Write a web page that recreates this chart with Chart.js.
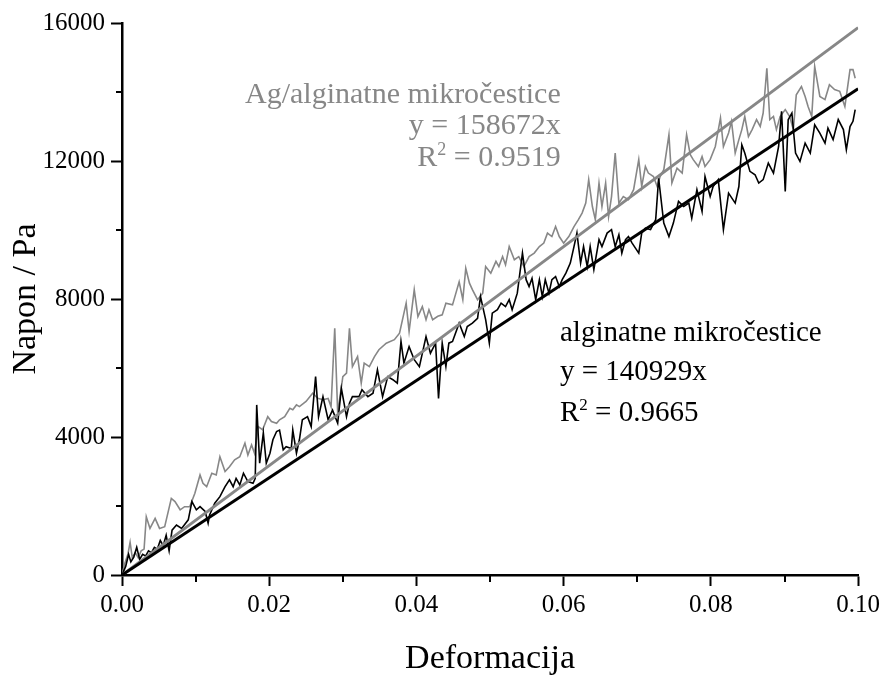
<!DOCTYPE html>
<html>
<head>
<meta charset="utf-8">
<title>Napon - deformacija</title>
<script src="https://cdn.jsdelivr.net/npm/chart.js@4.4.1/dist/chart.umd.min.js"></script>
<style>
    html, body { margin: 0; padding: 0; background: #ffffff; }
    #wrap { width: 884px; height: 682px; }
</style>
</head>
<body>
<div id="wrap"><canvas id="stressChart" width="884" height="682"></canvas></div>
<script>
/**
 * Napon / deformacija - alginatne i Ag/alginatne mikročestice
 * Noisy measurements plus linear fits through the origin.
 */

// Black series: alginatne mikročestice
const blackStrain = [
    0, 0.0005, 0.0009, 0.0012, 0.0016, 0.0020, 0.0024, 0.0028, 0.0032, 0.0036,
    0.0040, 0.0044, 0.0048, 0.0052, 0.0056, 0.0060, 0.0064, 0.0068, 0.0074, 0.0081,
    0.0090, 0.0095, 0.0101, 0.0106, 0.0113, 0.0117, 0.0119, 0.0126, 0.0133, 0.0140,
    0.0146, 0.0151, 0.0155, 0.0160, 0.0165, 0.0171, 0.0178, 0.0181, 0.0183, 0.0187,
    0.0192, 0.0196, 0.0201, 0.0205, 0.0210, 0.0214, 0.0219, 0.0223, 0.0230, 0.0232,
    0.0237, 0.0241, 0.0245, 0.0252, 0.0257, 0.0263, 0.0267, 0.0273, 0.0280, 0.0286,
    0.0293, 0.0298, 0.0305, 0.0309, 0.0313, 0.0322, 0.0326, 0.0334, 0.0341, 0.0347,
    0.0354, 0.0361, 0.0368, 0.0374, 0.0379, 0.0383, 0.0390, 0.0397, 0.0404, 0.0413,
    0.0419, 0.0426, 0.0430, 0.0435, 0.0440, 0.0444, 0.0449, 0.0458, 0.0465, 0.0469,
    0.0476, 0.0483, 0.0487, 0.0494, 0.0499, 0.0503, 0.0510, 0.0515, 0.0521, 0.0526,
    0.0530, 0.0537, 0.0544, 0.0549, 0.0553, 0.0557, 0.0562, 0.0567, 0.0571, 0.0575,
    0.0580, 0.0584, 0.0589, 0.0594, 0.0598, 0.0603, 0.0609, 0.0614, 0.0618, 0.0623,
    0.0627, 0.0632, 0.0636, 0.0641, 0.0648, 0.0652, 0.0659, 0.0665, 0.0670, 0.0675,
    0.0679, 0.0684, 0.0688, 0.0693, 0.0702, 0.0706, 0.0711, 0.0718, 0.0725, 0.0729,
    0.0736, 0.0743, 0.0749, 0.0756, 0.0763, 0.0770, 0.0774, 0.0781, 0.0788, 0.0792,
    0.0799, 0.0803, 0.0810, 0.0817, 0.0824, 0.0833, 0.0838, 0.0842, 0.0846, 0.0853,
    0.0860, 0.0865, 0.0871, 0.0878, 0.0885, 0.0892, 0.0896, 0.0901, 0.0905, 0.0910,
    0.0915, 0.0921, 0.0928, 0.0935, 0.0941, 0.0948, 0.0955, 0.0959, 0.0966, 0.0973,
    0.0980, 0.0984, 0.0989, 0.0993, 0.0996
];
const blackStress = [
    0, 250, 600, 380, 520, 800, 450, 600, 550, 700,
    650, 800, 750, 1000, 850, 1150, 700, 1300, 1450, 1350,
    1600, 2130, 1890, 1980, 1840, 1500, 1740, 2080, 2270, 2560,
    2760, 2560, 2800, 2610, 2950, 2710, 2660, 2800, 4930, 3240,
    4120, 3240, 3530, 3920, 4160, 4200, 3630, 3720, 3670, 4200,
    3530, 3920, 4500, 4590, 4300, 5750, 4590, 5170, 4500, 4780,
    4400, 5410, 4590, 4980, 5170, 5170, 5370, 5170, 5270, 5950,
    5170, 5750, 5660, 5560, 6770, 6140, 6620, 6240, 6040, 6910,
    6430, 6720, 5120, 6720, 6040, 6720, 6770, 7300, 6910, 7200,
    7300, 7440, 8070, 7400, 6720, 7590, 7690, 7880, 7780, 7980,
    7690, 8170, 9330, 8560, 8360, 8600, 7980, 8560, 8070, 8560,
    8170, 8560, 8650, 8360, 8560, 8750, 9040, 9520, 9910, 9040,
    9520, 8940, 9520, 8850, 9720, 9520, 9910, 10010, 9520, 9860,
    9330, 9720, 9810, 9620, 9330, 9910, 10050, 10010, 10300, 11500,
    10200, 9810, 10200, 10830, 10680, 10780, 10340, 11170, 10540, 11550,
    10970, 11260, 11460, 10010, 11070, 10780, 11260, 12470, 12230, 11700,
    11600, 11360, 11460, 11940, 11650, 12420, 13440, 11120, 13200, 13390,
    12230, 11990, 12520, 12230, 13050, 12810, 12520, 12950, 12620, 13200,
    12910, 12330, 13000, 13150, 13490
];

// Gray series: Ag/alginatne mikročestice
const grayStrain = [
    0, 0.0004, 0.0008, 0.0011, 0.0014, 0.0018, 0.0022, 0.0026, 0.0030, 0.0033,
    0.0038, 0.0045, 0.0051, 0.0058, 0.0067, 0.0072, 0.0079, 0.0085, 0.0092, 0.0099,
    0.0106, 0.0110, 0.0115, 0.0122, 0.0128, 0.0133, 0.0140, 0.0146, 0.0153, 0.0160,
    0.0167, 0.0171, 0.0176, 0.0180, 0.0185, 0.0191, 0.0198, 0.0203, 0.0210, 0.0214,
    0.0221, 0.0228, 0.0232, 0.0237, 0.0241, 0.0250, 0.0259, 0.0266, 0.0273, 0.0280,
    0.0284, 0.0289, 0.0293, 0.0300, 0.0305, 0.0309, 0.0313, 0.0320, 0.0325, 0.0329,
    0.0336, 0.0343, 0.0349, 0.0359, 0.0370, 0.0377, 0.0386, 0.0390, 0.0397, 0.0402,
    0.0408, 0.0413, 0.0417, 0.0422, 0.0429, 0.0435, 0.0440, 0.0449, 0.0458, 0.0463,
    0.0467, 0.0472, 0.0476, 0.0483, 0.0490, 0.0494, 0.0501, 0.0508, 0.0512, 0.0517,
    0.0521, 0.0526, 0.0533, 0.0539, 0.0546, 0.0553, 0.0560, 0.0567, 0.0573, 0.0578,
    0.0584, 0.0589, 0.0594, 0.0600, 0.0607, 0.0614, 0.0620, 0.0625, 0.0630, 0.0634,
    0.0639, 0.0643, 0.0648, 0.0652, 0.0657, 0.0661, 0.0665, 0.0670, 0.0675, 0.0681,
    0.0688, 0.0695, 0.0702, 0.0706, 0.0711, 0.0715, 0.0722, 0.0727, 0.0731, 0.0736,
    0.0743, 0.0747, 0.0754, 0.0761, 0.0767, 0.0772, 0.0776, 0.0783, 0.0788, 0.0792,
    0.0799, 0.0806, 0.0813, 0.0817, 0.0824, 0.0828, 0.0833, 0.0838, 0.0842, 0.0846,
    0.0851, 0.0856, 0.0862, 0.0867, 0.0871, 0.0876, 0.0880, 0.0885, 0.0889, 0.0894,
    0.0901, 0.0907, 0.0912, 0.0916, 0.0923, 0.0928, 0.0932, 0.0937, 0.0941, 0.0948,
    0.0955, 0.0961, 0.0968, 0.0975, 0.0982, 0.0989, 0.0993, 0.0996
];
const grayStress = [
    0, 350, 600, 950, 500, 650, 500, 700, 750, 1690,
    1350, 1640, 1350, 1400, 2220, 2130, 1890, 1980, 1980, 2370,
    2900, 2660, 2560, 2950, 2900, 3430, 3000, 3140, 3340, 3430,
    3820, 3480, 3770, 3530, 4300, 4210, 4590, 4450, 4400, 4500,
    4590, 4830, 4790, 4930, 4880, 5030, 5270, 5120, 5080, 5120,
    4880, 7150, 4700, 5750, 5850, 7150, 6040, 6330, 5560, 6140,
    6040, 6330, 6530, 6720, 6820, 7010, 7880, 7060, 8270, 7490,
    7780, 7400, 7690, 7400, 7500, 7540, 7880, 7830, 8500, 7980,
    8890, 8460, 8270, 7980, 8170, 8940, 8750, 9090, 8940, 9230,
    8990, 9520, 9140, 9230, 8940, 9230, 9330, 9520, 9620, 9910,
    9810, 10100, 9810, 9620, 9810, 10100, 10300, 10490, 10780, 11460,
    10680, 10300, 11360, 10680, 11360, 10390, 10970, 12230, 10780, 10970,
    10880, 11170, 12040, 11260, 11840, 11650, 11550, 11260, 11550, 11750,
    12760, 11360, 11790, 11650, 12760, 12180, 12040, 11840, 12130, 11840,
    12040, 12420, 13250, 12420, 12810, 13150, 12230, 12620, 12910, 13290,
    12710, 12910, 13200, 13000, 13390, 14690, 13200, 13290, 12910, 13290,
    13490, 13290, 12910, 13920, 14160, 13870, 13580, 13290, 14740, 13870,
    13780, 14210, 14070, 14020, 13580, 14650, 14650, 14400
];

// Linear fits y = k x (from the equations printed on the chart)
const slopeBlack = 140929;
const slopeGray = 158672;
const fitStrain = [0, 0.1];

// Axis ticks
const minorStrainTicks = [0.01, 0.03, 0.05, 0.07, 0.09];
const minorStressTicks = [2000, 6000, 10000, 14000];

const FONT = '"Liberation Serif", "Times New Roman", Times, serif';
const GRAY = '#878787';

function toPoints(xs, ys) {
    return xs.map((x, i) => ({ x: x, y: ys[i] }));
}

function fitPoints(slope) {
    return fitStrain.map(x => ({ x: x, y: slope * x }));
}

// Equation labels, anchored in data coordinates
const annotations = [
    { color: GRAY, align: 'right', x: 0.0596, size: 30, lines: [
        { text: 'Ag/alginatne mikročestice', y: 13680 },
        { text: 'y = 158672x', y: 12780 },
        { r2: '0.9519', y: 11850 }
    ]},
    { color: '#000000', align: 'left', x: 0.0595, size: 29, lines: [
        { text: 'alginatne mikročestice', y: 6780 },
        { text: 'y = 140929x', y: 5650 },
        { r2: '0.9665', y: 4460 }
    ]}
];

function drawR2(ctx, value, px, py, align, size) {
    const big = size + 'px ' + FONT;
    const small = Math.round(size * 0.6) + 'px ' + FONT;
    const rest = ' = ' + value;
    ctx.font = big;
    const wR = ctx.measureText('R').width;
    const wRest = ctx.measureText(rest).width;
    ctx.font = small;
    const w2 = ctx.measureText('2').width;
    const start = align === 'right' ? px - (wR + w2 + wRest) : px;
    ctx.textAlign = 'left';
    ctx.font = big;
    ctx.fillText('R', start, py);
    ctx.font = small;
    ctx.fillText('2', start + wR, py - 11);
    ctx.font = big;
    ctx.fillText(rest, start + wR + w2, py);
}

const extrasPlugin = {
    id: 'extras',
    afterDraw(chart) {
        const ctx = chart.ctx;
        const xs = chart.scales.x;
        const ys = chart.scales.y;
        ctx.save();

        // minor ticks
        ctx.strokeStyle = '#000';
        ctx.lineWidth = 2;
        minorStrainTicks.forEach(v => {
            const px = Math.round(xs.getPixelForValue(v));
            ctx.beginPath();
            ctx.moveTo(px, ys.bottom);
            ctx.lineTo(px, ys.bottom + 7);
            ctx.stroke();
        });
        minorStressTicks.forEach(v => {
            const py = Math.round(ys.getPixelForValue(v));
            ctx.beginPath();
            ctx.moveTo(xs.left, py);
            ctx.lineTo(xs.left - 6, py);
            ctx.stroke();
        });

        // equation text
        ctx.textBaseline = 'alphabetic';
        annotations.forEach(a => {
            ctx.fillStyle = a.color;
            const px = xs.getPixelForValue(a.x);
            a.lines.forEach(line => {
                const py = ys.getPixelForValue(line.y);
                if (line.r2) {
                    drawR2(ctx, line.r2, px, py, a.align, a.size);
                } else {
                    ctx.font = a.size + 'px ' + FONT;
                    ctx.textAlign = a.align;
                    ctx.fillText(line.text, px, py);
                }
            });
        });
        ctx.restore();
    }
};

const ctx = document.getElementById('stressChart');

new Chart(ctx, {
    type: 'line',
    data: {
        datasets: [
            {
                label: 'alginatne mikročestice - fit',
                data: fitPoints(slopeBlack),
                borderColor: '#000000',
                borderWidth: 3,
                order: 0
            },
            {
                label: 'Ag/alginatne mikročestice - fit',
                data: fitPoints(slopeGray),
                borderColor: GRAY,
                borderWidth: 3,
                order: 1
            },
            {
                label: 'alginatne mikročestice',
                data: toPoints(blackStrain, blackStress),
                borderColor: '#000000',
                borderWidth: 1.6,
                order: 2
            },
            {
                label: 'Ag/alginatne mikročestice',
                data: toPoints(grayStrain, grayStress),
                borderColor: GRAY,
                borderWidth: 1.6,
                order: 3
            }
        ]
    },
    options: {
        responsive: false,
        animation: false,
        elements: {
            point: { radius: 0, hoverRadius: 0 },
            line: { tension: 0, fill: false }
        },
        layout: {
            padding: { top: 23, right: 24, bottom: 0, left: 0 }
        },
        plugins: {
            legend: { display: false },
            tooltip: { enabled: false },
            title: { display: false }
        },
        scales: {
            x: {
                type: 'linear',
                min: 0,
                max: 0.1,
                afterFit: function(scale) { scale.height = 107; },
                border: { display: true, color: '#000', width: 2.5 },
                grid: {
                    drawOnChartArea: false,
                    drawTicks: true,
                    tickLength: 11,
                    tickWidth: 2,
                    tickColor: '#000'
                },
                ticks: {
                    stepSize: 0.02,
                    padding: 4,
                    maxRotation: 0,
                    color: '#000',
                    font: { family: FONT, size: 25 },
                    callback: v => v.toFixed(2)
                },
                title: {
                    display: true,
                    text: 'Deformacija',
                    color: '#000',
                    font: { family: FONT, size: 34 },
                    padding: { top: 0, bottom: 3 }
                }
            },
            y: {
                type: 'linear',
                min: 0,
                max: 16000,
                afterFit: function(scale) { scale.width = 122; },
                border: { display: true, color: '#000', width: 2.5 },
                grid: {
                    drawOnChartArea: false,
                    drawTicks: true,
                    tickLength: 11,
                    tickWidth: 2,
                    tickColor: '#000'
                },
                ticks: {
                    stepSize: 4000,
                    padding: 6,
                    color: '#000',
                    font: { family: FONT, size: 25 },
                    callback: v => String(v)
                },
                title: {
                    display: true,
                    text: 'Napon / Pa',
                    color: '#000',
                    font: { family: FONT, size: 34 },
                    padding: { top: 6, bottom: 0 }
                }
            }
        }
    },
    plugins: [extrasPlugin]
});
</script>
</body>
</html>
